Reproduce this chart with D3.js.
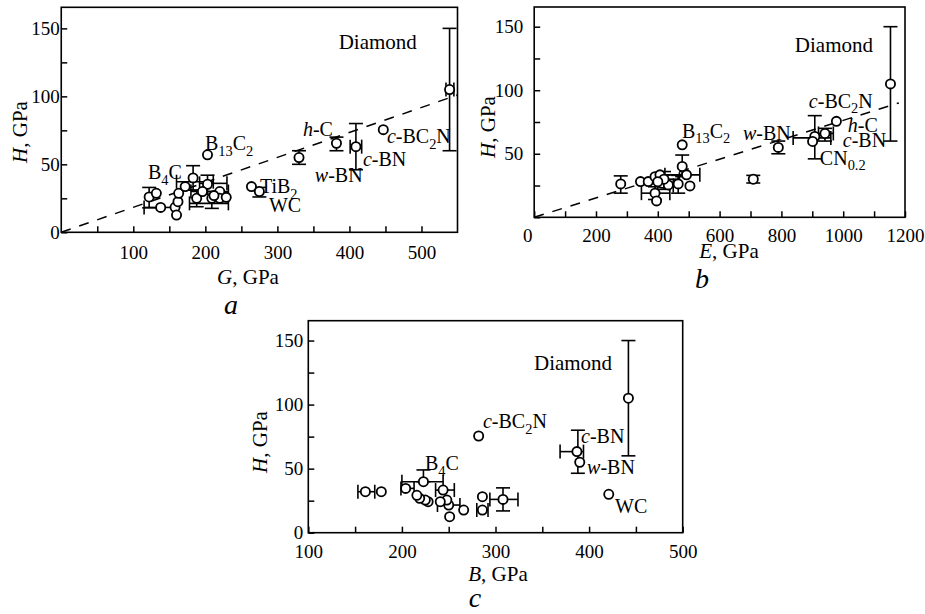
<!DOCTYPE html>
<html><head><meta charset="utf-8">
<script src="https://cdn.jsdelivr.net/npm/d3@7/dist/d3.min.js"></script>
<style>
body{margin:0;background:#fff}
svg{display:block}
</style>
</head><body>
<script>
// ---------- DATA ----------
// Panel a: shear modulus G (GPa) vs hardness H (GPa)
const aG = [539, 447, 409, 382, 330, 264, 275, 203, 183, 122, 132, 138, 158, 160, 162, 163, 172, 188, 203, 209, 220, 220, 229, 196, 212];
const aH = [105, 75.5, 63, 65.5, 55, 33.6, 30, 57, 40, 26, 28.7, 18.3, 18.4, 12.7, 22.5, 28.7, 33.6, 25, 35.3, 25, 30, 25, 25.7, 30, 27];
const aErrV = [[539, 60, 150], [409, 46, 80], [382, 60, 70], [330, 50, 60], [275, 26, 33], [183, 31, 49], [122, 18, 33], [188, 18.8, 31], [203, 28, 42], [209, 17.6, 30]];
const aErrH = [[18.3, 115, 158], [37.2, 160, 211], [36, 192, 230], [30, 180, 232], [21.3, 178, 232], [63, 401, 417], [105, 534, 545]];
const aFit = [[0, 0], [550, 101]];

// Panel b: Young's modulus E (GPa) vs hardness H (GPa)
const bE = [1153, 978, 941, 908, 901, 790, 709, 479, 479, 280, 344, 369, 391, 407, 415, 391, 396, 434, 466, 493, 504, 420, 400];
const bH = [105, 75.5, 66, 63.6, 59.7, 55, 30, 57, 40, 26.3, 28.1, 28.1, 32, 33.4, 26.8, 19, 12.9, 25.5, 26.3, 33.4, 24.7, 30, 28];
const bErrV = [[1153, 60, 150], [908, 46, 80], [941, 60, 70], [790, 50, 60], [709, 27, 33], [479, 32, 49], [280, 19, 32.6], [466, 19, 33], [420, 22, 36], [391, 14, 24]];
const bErrH = [[62.5, 838, 960], [66, 920, 968], [33.4, 423, 536], [19, 347, 439], [30, 395, 470], [25, 400, 450]];
const bFit = [[0, 0], [1180, 90]];

// Panel c: bulk modulus B (GPa) vs hardness H (GPa)
const cB = [442, 421, 390, 387, 282, 308, 286, 286, 266, 251, 250, 248, 244, 241, 228, 225, 219, 216, 204, 223, 178, 161];
const cH = [105, 30, 55, 63.3, 75.5, 26, 28.1, 17.7, 17.7, 12.5, 21.6, 25.5, 33.3, 24.2, 24.2, 25.5, 26.8, 29.2, 34.6, 39.8, 32, 32];
const cErrV = [[442, 60, 150], [388, 46.4, 80], [308, 17, 35], [223, 39.8, 49]];
const cErrH = [[63.3, 369, 394], [26, 294, 324], [17.7, 280, 292], [32, 153, 171], [34.6, 199, 213], [39.8, 200, 244], [33.3, 236, 256], [21.6, 238, 262]];

// Tick values
const yTicksAll = [0, 25, 50, 75, 100, 125, 150];
const aXTicks = [50, 100, 150, 200, 250, 300, 350, 400, 450, 500];
const aXLabels = [100, 200, 300, 400, 500];
const aYLabels = [0, 50, 100, 150];
const bXTicks = [0, 100, 200, 300, 400, 500, 600, 700, 800, 900, 1000, 1100, 1200];
const bXLabels = [0, 200, 400, 600, 800, 1000, 1200];
const bYLabels = [50, 100, 150];
const cXTicks = [100, 150, 200, 250, 300, 350, 400, 450, 500];
const cXLabels = [100, 200, 300, 400, 500];
const cYLabels = [0, 50, 100, 150];

// Annotations: [x, y] in data units, text runs (i = italic, s = subscript)
const aNotes = [
  {at: [385, 134.6], runs: [{t: "Diamond"}], big: true},
  {at: [199.4, 60.5], runs: [{t: "B"}, {t: "13", s: 1}, {t: "C"}, {t: "2", s: 1}]},
  {at: [335.4, 70.8], runs: [{t: "h", i: 1}, {t: "-C"}]},
  {at: [452, 65.7], runs: [{t: "c", i: 1}, {t: "-BC"}, {t: "2", s: 1}, {t: "N"}]},
  {at: [418.7, 48.8], runs: [{t: "c", i: 1}, {t: "-BN"}]},
  {at: [352, 37], runs: [{t: "w", i: 1}, {t: "-BN"}]},
  {at: [120.3, 39.2], runs: [{t: "B"}, {t: "4", s: 1}, {t: "C"}]},
  {at: [275.7, 28.9], runs: [{t: "TiB"}, {t: "2", s: 1}]},
  {at: [288.2, 15], runs: [{t: "WC"}]}
];
const bNotes = [
  {at: [843.6, 129.7], runs: [{t: "Diamond"}], big: true},
  {at: [888.9, 86.3], runs: [{t: "c", i: 1}, {t: "-BC"}, {t: "2", s: 1}, {t: "N"}]},
  {at: [1015, 67.4], runs: [{t: "h", i: 1}, {t: "-C"}]},
  {at: [998.7, 55.7], runs: [{t: "c", i: 1}, {t: "-BN"}]},
  {at: [924.5, 41.3], runs: [{t: "CN"}, {t: "0.2", s: 1}]},
  {at: [675.4, 61], runs: [{t: "w", i: 1}, {t: "-BN"}]},
  {at: [478, 62.6], runs: [{t: "B"}, {t: "13", s: 1}, {t: "C"}, {t: "2", s: 1}]}
];
const cNotes = [
  {at: [341.1, 127], runs: [{t: "Diamond"}], big: true},
  {at: [286.6, 81.8], runs: [{t: "c", i: 1}, {t: "-BC"}, {t: "2", s: 1}, {t: "N"}]},
  {at: [391.4, 70], runs: [{t: "c", i: 1}, {t: "-BN"}]},
  {at: [397.8, 45.8], runs: [{t: "w", i: 1}, {t: "-BN"}]},
  {at: [427.7, 15.4], runs: [{t: "WC"}]},
  {at: [224.7, 49], runs: [{t: "B"}, {t: "4", s: 1}, {t: "C"}]}
];

// ---------- DRAWING ----------
const FONT = '"Liberation Serif"';
const W = 925, H = 614;
const svg = d3.select("body").append("svg").attr("width", W).attr("height", H);

function richText(sel, runs, size) {
  runs.forEach((r, k) => {
    const ts = sel.append("tspan").text(r.t);
    if (r.i) ts.style("font-style", "italic");
    if (r.s) {
      ts.style("font-size", (size * 0.72) + "px").attr("dy", size * 0.28);
    } else if (k > 0 && runs[k - 1].s) {
      ts.attr("dy", -size * 0.28);
    }
  });
}

function panel(cfg) {
  const g = svg.append("g");
  const x = d3.scaleLinear().domain(cfg.xd).range([cfg.left, cfg.right]);
  const y = d3.scaleLinear().domain([0, 165.5]).range([cfg.bottom, cfg.top]);

  const xa = g.append("g").attr("transform", `translate(0,${cfg.bottom})`)
    .call(d3.axisBottom(x).tickValues(cfg.xTicks).tickSizeInner(-6).tickSizeOuter(0)
      .tickPadding(cfg.xPad).tickFormat(d => cfg.xLabels.includes(d) ? d : ""));
  const ya = g.append("g").attr("transform", `translate(${cfg.left},0)`)
    .call(d3.axisLeft(y).tickValues(yTicksAll).tickSizeInner(-6).tickSizeOuter(0)
      .tickPadding(cfg.yPad).tickFormat(d => cfg.yLabels.includes(d) ? d : ""));
  [xa, ya].forEach(a => {
    a.select(".domain").remove();
    a.attr("font-family", "Liberation Serif");
    a.selectAll("line").attr("stroke", "#000").attr("stroke-width", 1.5);
    a.selectAll("text").attr("fill", "#000").style("font-size", "19px");
  });
  if (cfg.zeroShift) xa.selectAll(".tick text").filter(d => d === 0).attr("dx", cfg.zeroShift);

  g.append("rect").attr("x", cfg.left).attr("y", cfg.top)
    .attr("width", cfg.right - cfg.left).attr("height", cfg.bottom - cfg.top)
    .attr("fill", "none").attr("stroke", "#000").attr("stroke-width", 1.6);

  if (cfg.fit) {
    g.append("path").datum(cfg.fit)
      .attr("d", d3.line().x(d => x(d[0])).y(d => y(d[1])))
      .attr("fill", "none").attr("stroke", "#000").attr("stroke-width", 1.5)
      .attr("stroke-dasharray", "10,9");
  }

  const cap = 7;
  const eb = g.append("g").attr("stroke", "#000").attr("stroke-width", 1.6).attr("fill", "none");
  cfg.errV.forEach(([xv, lo, hi]) => {
    const px = x(xv);
    eb.append("line").attr("x1", px).attr("x2", px).attr("y1", y(lo)).attr("y2", y(hi));
    eb.append("line").attr("x1", px - cap).attr("x2", px + cap).attr("y1", y(lo)).attr("y2", y(lo));
    eb.append("line").attr("x1", px - cap).attr("x2", px + cap).attr("y1", y(hi)).attr("y2", y(hi));
  });
  cfg.errH.forEach(([yv, lo, hi]) => {
    const py = y(yv);
    eb.append("line").attr("y1", py).attr("y2", py).attr("x1", x(lo)).attr("x2", x(hi));
    eb.append("line").attr("y1", py - cap).attr("y2", py + cap).attr("x1", x(lo)).attr("x2", x(lo));
    eb.append("line").attr("y1", py - cap).attr("y2", py + cap).attr("x1", x(hi)).attr("x2", x(hi));
  });

  g.append("g").selectAll("circle").data(d3.range(cfg.xs.length)).join("circle")
    .attr("cx", i => x(cfg.xs[i])).attr("cy", i => y(cfg.ys[i])).attr("r", 4.6)
    .attr("fill", "#fff").attr("stroke", "#000").attr("stroke-width", 1.8);

  cfg.notes.forEach(n => {
    const size = n.big ? 21 : 20;
    const t = g.append("text").attr("x", x(n.at[0])).attr("y", y(n.at[1]))
      .style("font-size", size + "px").attr("fill", "#000");
    richText(t, n.runs, size);
  });

  g.append("text").attr("x", cfg.xTitle[0]).attr("y", cfg.xTitle[1]).attr("text-anchor", "middle")
    .style("font-size", "21px").call(t => richText(t, [{t: cfg.xVar, i: 1}, {t: ", GPa"}], 21));
  g.append("text").attr("transform", `translate(${cfg.yTitle[0]},${cfg.yTitle[1]}) rotate(-90)`)
    .attr("text-anchor", "middle").style("font-size", "21px")
    .call(t => richText(t, [{t: "H", i: 1}, {t: ", GPa"}], 21));
  g.append("text").attr("x", cfg.letter[0]).attr("y", cfg.letter[1]).attr("text-anchor", "middle")
    .style("font-size", "28px").style("font-style", "italic").text(cfg.letterText);
}

panel({left: 61.25, right: 457.5, top: 7.3, bottom: 232.3, xd: [0, 550],
  xTicks: aXTicks, xLabels: aXLabels, yLabels: aYLabels, xPad: 13, yPad: 1.5,
  xs: aG, ys: aH, errV: aErrV, errH: aErrH, fit: aFit, notes: aNotes,
  xVar: "G", xTitle: [248, 284], yTitle: [27, 132], letter: [231, 314], letterText: "a"});

panel({left: 534.2, right: 905, top: 7, bottom: 217.3, xd: [0, 1200],
  xTicks: bXTicks, xLabels: bXLabels, yLabels: bYLabels, xPad: 11.5, yPad: 11, zeroShift: -7,
  xs: bE, ys: bH, errV: bErrV, errH: bErrH, fit: bFit, notes: bNotes,
  xVar: "E", xTitle: [729, 258], yTitle: [495, 127], letter: [702, 288], letterText: "b"});

panel({left: 308.3, right: 682.7, top: 320.7, bottom: 532.7, xd: [100, 500],
  xTicks: cXTicks, xLabels: cXLabels, yLabels: cYLabels, xPad: 12, yPad: 5,
  xs: cB, ys: cH, errV: cErrV, errH: cErrH, fit: null, notes: cNotes,
  xVar: "B", xTitle: [498, 581], yTitle: [267, 442], letter: [475, 607], letterText: "c"});

// apply the serif face directly on every text node
svg.selectAll("text, tspan").style("font-family", FONT);
</script>
</body></html>
